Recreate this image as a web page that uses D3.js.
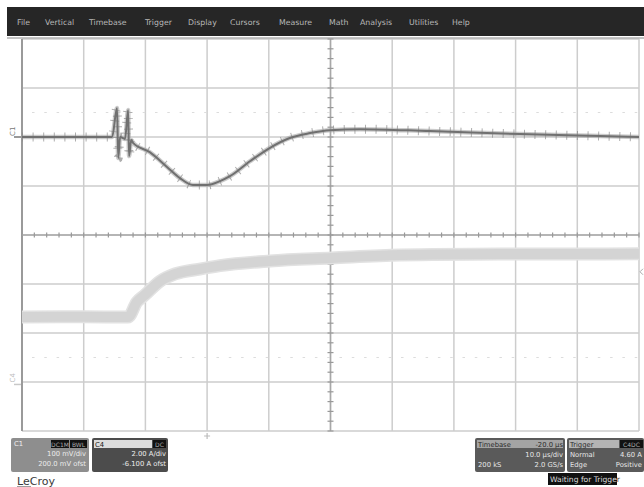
<!DOCTYPE html>
<html>
<head>
<meta charset="utf-8">
<script src="https://cdn.jsdelivr.net/npm/d3@7"></script>
<style>
  body { margin: 0; background: #fff; overflow: hidden; }
  svg { display: block; }
  text { font-family: "DejaVu Sans", "Liberation Sans", sans-serif; }
</style>
</head>
<body>
<div id="chart"></div>
<script>
const width = 644;
const height = 487;

// menu bar
const menuItems = ["File", "Vertical", "Timebase", "Trigger", "Display", "Cursors", "Measure", "Math", "Analysis", "Utilities", "Help"];
const menuX = [17, 45, 89, 145, 188, 230, 279, 329, 360, 409, 452];

// C1 trace: time (µs, trigger = 0) and mV
const c1Time = [-30, -22, -15.4, -14.6, -14.4, -14.1, -13.3, -12.8, -12.65, -12.3, -12.0, -9.3, -6.5, -4.4, -2.3, 0, 2.1, 3.7, 7.0, 10.2, 13.4, 16.7, 19.9, 24.8, 36.1, 50.7, 63.7, 70];
const c1Volt = [0, 0, 0, 59, -43, 0, -4, 55, -39, -6, -12, -31, -61, -84, -98, -98, -90, -80, -49, -22, -2, 8, 14, 16, 12, 6, 2, 0];

// C4 trace: time (µs) and amps
const c4Time = [-30, -20, -12.8, -11.4, -10.1, -7.6, -5.2, -1.2, 2.1, 10.2, 20.2, 31.3, 47.5, 70];
const c4Amp = [2.75, 2.76, 2.75, 3.36, 3.65, 4.22, 4.51, 4.71, 4.85, 5.04, 5.16, 5.28, 5.32, 5.33];

// channel settings
const c1VoltsPerDiv = 100;   // mV/div
const c1Offset = 200;        // mV
const c4AmpsPerDiv = 2;      // A/div
const c4Offset = -6.1;       // A
const triggerLevel = 4.6;    // A
const timePerDiv = 10;       // µs/div

// bottom panel text
const c1Rows = ["100 mV/div", "200.0 mV ofst"];
const c4Rows = ["2.00 A/div", "-6.100 A ofst"];
const tbRows = [["Timebase", "-20.0 µs"], ["", "10.0 µs/div"], ["200 kS", "2.0 GS/s"]];
const trRows = [["Trigger", ""], ["Normal", "4.60 A"], ["Edge", "Positive"]];

const svg = d3
  .select("#chart")
  .append("svg")
  .attr("width", width)
  .attr("height", height);

// scales
const x = d3.scaleLinear().domain([-30, 70]).range([22, 639]);
const yDiv = d3.scaleLinear().domain([-4, 4]).range([431, 39]);
const yC1 = (v) => yDiv((v + c1Offset) / c1VoltsPerDiv);
const yC4 = (v) => yDiv((v + c4Offset) / c4AmpsPerDiv);

// menu bar
svg.append("rect").attr("x", 7).attr("y", 7).attr("width", width - 7).attr("height", 29).attr("fill", "#262626");
svg
  .selectAll(".menu")
  .data(menuItems)
  .enter()
  .append("text")
  .attr("x", (d, i) => menuX[i])
  .attr("y", 25)
  .attr("font-size", 7.8)
  .attr("fill", "#b8b8b8")
  .text((d) => d);

// graticule
const grid = svg.append("g");
const xDivs = d3.range(-30, 71, timePerDiv);
const yDivs = d3.range(-4, 5, 1);

grid
  .selectAll(".vline")
  .data(xDivs)
  .enter()
  .append("line")
  .attr("x1", (d) => x(d))
  .attr("x2", (d) => x(d))
  .attr("y1", yDiv(4))
  .attr("y2", yDiv(-4))
  .attr("stroke", "#cdcdcd")
  .attr("stroke-width", 1.5);

grid
  .selectAll(".hline")
  .data(yDivs)
  .enter()
  .append("line")
  .attr("x1", x(-30))
  .attr("x2", x(70))
  .attr("y1", (d) => yDiv(d))
  .attr("y2", (d) => yDiv(d))
  .attr("stroke", "#cdcdcd")
  .attr("stroke-width", 1.5);

// faint dotted rows
grid
  .selectAll(".dotrow")
  .data([2.5, -2.5])
  .enter()
  .append("line")
  .attr("x1", x(-30) + 10)
  .attr("x2", x(70))
  .attr("y1", (d) => yDiv(d))
  .attr("y2", (d) => yDiv(d))
  .attr("stroke", "#dcdcdc")
  .attr("stroke-width", 1.2)
  .attr("stroke-dasharray", "2.5 9.8");

// frame
grid.append("line").attr("x1", x(-30)).attr("x2", x(-30)).attr("y1", yDiv(4)).attr("y2", yDiv(-4)).attr("stroke", "#9a9a9a").attr("stroke-width", 2);
grid.append("line").attr("x1", 7).attr("x2", width).attr("y1", 38).attr("y2", 38).attr("stroke", "#b0b0b0").attr("stroke-width", 1.5);

// center cross with ticks
grid.append("line").attr("x1", x(-30)).attr("x2", x(70)).attr("y1", yDiv(0)).attr("y2", yDiv(0)).attr("stroke", "#a8a8a8").attr("stroke-width", 1.5);
grid.append("line").attr("x1", x(20)).attr("x2", x(20)).attr("y1", yDiv(4)).attr("y2", yDiv(-4)).attr("stroke", "#a8a8a8").attr("stroke-width", 1.5);

grid
  .selectAll(".xtick")
  .data(d3.range(-30, 70.01, timePerDiv / 5))
  .enter()
  .append("line")
  .attr("x1", (d) => x(d))
  .attr("x2", (d) => x(d))
  .attr("y1", yDiv(0) - 2.5)
  .attr("y2", yDiv(0) + 2.5)
  .attr("stroke", "#999")
  .attr("stroke-width", 1.2);

grid
  .selectAll(".ytick")
  .data(d3.range(-4, 4.01, 0.2))
  .enter()
  .append("line")
  .attr("x1", x(20) - 3)
  .attr("x2", x(20) + 3)
  .attr("y1", (d) => yDiv(d))
  .attr("y2", (d) => yDiv(d))
  .attr("stroke", "#999")
  .attr("stroke-width", 1.2);

// C4 trace (light, thick band)
const c4Data = c4Time.map((t, i) => ({ t, v: c4Amp[i] }));
const c4Line = d3
  .line()
  .x((d) => x(d.t))
  .y((d) => yC4(d.v))
  .curve(d3.curveMonotoneX);

svg.append("path").attr("d", c4Line(c4Data)).attr("fill", "none").attr("stroke", "#e2e2e2").attr("stroke-width", 13);
svg.append("path").attr("d", c4Line(c4Data)).attr("fill", "none").attr("stroke", "#d4d4d4").attr("stroke-width", 10);

// C1 trace (dark, with switching noise)
const c1Data = c1Time.map((t, i) => ({ t, v: c1Volt[i] }));
const c1Line = d3
  .line()
  .x((d) => x(d.t))
  .y((d) => yC1(d.v))
  .curve(d3.curveMonotoneX);

svg.append("path").attr("d", c1Line(c1Data)).attr("fill", "none").attr("stroke", "#a8a8a8").attr("stroke-width", 4.5).attr("stroke-opacity", 0.6);
svg.append("path").attr("d", c1Line(c1Data)).attr("fill", "none").attr("stroke", "#8c8c8c").attr("stroke-width", 9).attr("stroke-dasharray", "1 9.6").attr("stroke-opacity", 0.7);
svg.append("path").attr("d", c1Line(c1Data)).attr("fill", "none").attr("stroke", "#707070").attr("stroke-width", 2);

// channel markers at left
svg.append("line").attr("x1", 14).attr("x2", 21).attr("y1", yC1(0)).attr("y2", yC1(0)).attr("stroke", "#777").attr("stroke-width", 1.5);
svg.append("text").attr("transform", `translate(15,${yC1(0) - 1}) rotate(-90)`).attr("font-size", 7).attr("fill", "#777").text("C1");
svg.append("line").attr("x1", 14).attr("x2", 21).attr("y1", yC4(0)).attr("y2", yC4(0)).attr("stroke", "#c8c8c8").attr("stroke-width", 1.5);
svg.append("text").attr("transform", `translate(15,${yC4(0) - 2}) rotate(-90)`).attr("font-size", 7).attr("fill", "#c0c0c0").text("C4");

// trigger position and level markers
svg.append("path").attr("d", `M${x(0) - 3},${yDiv(-4) + 5}h6M${x(0)},${yDiv(-4) + 2}v6`).attr("stroke", "#bbb").attr("stroke-width", 1.2);
svg.append("path").attr("d", `M${x(70) + 4},${yC4(triggerLevel) - 3}L${x(70) + 1},${yC4(triggerLevel)}L${x(70) + 4},${yC4(triggerLevel) + 3}`).attr("fill", "none").attr("stroke", "#aaa").attr("stroke-width", 1);

// bottom panels
const fs = 6.8;
function badge(x0, y0, w, label) {
  svg.append("rect").attr("x", x0).attr("y", y0).attr("width", w).attr("height", 8).attr("fill", "#111");
  svg.append("text").attr("x", x0 + w / 2).attr("y", y0 + 6.5).attr("text-anchor", "middle").attr("font-size", 6).attr("fill", "#aaa").text(label);
}

// C1
svg.append("rect").attr("x", 11).attr("y", 438).attr("width", 78).attr("height", 34).attr("rx", 2).attr("fill", "#8e8e8e");
svg.append("text").attr("x", 14).attr("y", 446).attr("font-size", fs).attr("fill", "#eee").text("C1");
badge(51, 440, 18, "DC1M");
badge(70, 440, 17, "BWL");
c1Rows.forEach((r, i) => {
  svg.append("text").attr("x", 86).attr("y", 456 + i * 10).attr("text-anchor", "end").attr("font-size", fs).attr("fill", "#ececec").text(r);
});

// C4
svg.append("rect").attr("x", 92).attr("y", 438).attr("width", 76).attr("height", 34).attr("rx", 2).attr("fill", "#4c4c4c");
svg.append("rect").attr("x", 94).attr("y", 440).attr("width", 58).attr("height", 8).attr("fill", "#dcdcdc");
svg.append("text").attr("x", 95).attr("y", 446.5).attr("font-size", fs).attr("fill", "#222").text("C4");
badge(153, 440, 13, "DC");
c4Rows.forEach((r, i) => {
  svg.append("text").attr("x", 166).attr("y", 456 + i * 10).attr("text-anchor", "end").attr("font-size", fs).attr("fill", "#eee").text(r);
});

// Timebase
svg.append("rect").attr("x", 475).attr("y", 438).attr("width", 90).attr("height", 34).attr("rx", 2).attr("fill", "#5a5a5a");
svg.append("rect").attr("x", 477).attr("y", 440).attr("width", 86).attr("height", 8).attr("fill", "#a4a4a4");
tbRows.forEach((r, i) => {
  const c = i === 0 ? "#2a2a2a" : "#e8e8e8";
  svg.append("text").attr("x", 478).attr("y", 446.5 + i * 10).attr("font-size", fs).attr("fill", c).text(r[0]);
  svg.append("text").attr("x", 563).attr("y", 446.5 + i * 10).attr("text-anchor", "end").attr("font-size", fs).attr("fill", c).text(r[1]);
});

// Trigger
svg.append("rect").attr("x", 567).attr("y", 438).attr("width", 77).attr("height", 34).attr("rx", 2).attr("fill", "#5a5a5a");
svg.append("rect").attr("x", 569).attr("y", 440).attr("width", 50).attr("height", 8).attr("fill", "#b4b4b4");
badge(620, 440, 23, "C4DC");
trRows.forEach((r, i) => {
  const c = i === 0 ? "#2a2a2a" : "#e8e8e8";
  svg.append("text").attr("x", 570).attr("y", 446.5 + i * 10).attr("font-size", fs).attr("fill", c).text(r[0]);
  svg.append("text").attr("x", 642).attr("y", 446.5 + i * 10).attr("text-anchor", "end").attr("font-size", fs).attr("fill", c).text(r[1]);
});

// status line
const defs = svg.append("defs");
defs.append("clipPath").attr("id", "inBox").append("rect").attr("x", 548).attr("y", 472).attr("width", 69).attr("height", 14);
defs.append("clipPath").attr("id", "outBox").append("rect").attr("x", 617).attr("y", 472).attr("width", 30).attr("height", 14);
svg.append("rect").attr("x", 548).attr("y", 473).attr("width", 69).attr("height", 12).attr("fill", "#111");
["inBox", "outBox"].forEach((id) => {
  svg
    .append("text")
    .attr("x", 550)
    .attr("y", 482)
    .attr("font-size", 7.6)
    .attr("fill", id === "inBox" ? "#ddd" : "#333")
    .attr("clip-path", `url(#${id})`)
    .text("Waiting for Trigger");
});

// logo
svg.append("text").attr("x", 17).attr("y", 485).attr("font-size", 11).attr("fill", "#3a3a3a").text("LeCroy");
svg.append("line").attr("x1", 17).attr("x2", 31).attr("y1", 487).attr("y2", 487).attr("stroke", "#3a3a3a").attr("stroke-width", 1);
</script>
</body>
</html>
